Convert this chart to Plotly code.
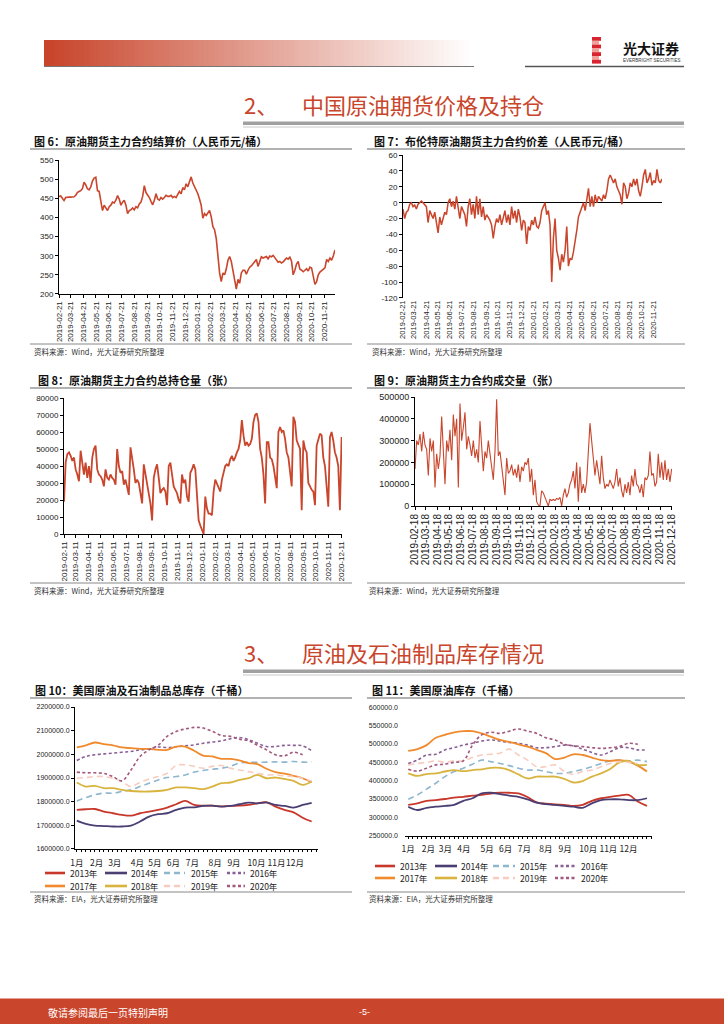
import numpy as np
import pandas as pd
import plotly.graph_objects as go

W, H = 724, 1024
def X(p): return p / W
def Y(p): return 1 - p / H

# ---------------- data ----------------
# Fig 6: settlement price (CNY/bbl), evenly spaced samples
c6_start, c6_end = "2019-02-21", "2020-12-16"
c6_price = [455,456,450,444,452,453,453,453,453,454,
            458,465,468,470,475,492,485,475,472,480,
            495,503,505,470,468,440,418,432,425,418,
            428,432,440,438,445,457,448,432,440,445,
            432,410,418,420,425,420,428,425,435,440,
            455,483,465,460,452,442,433,445,462,448,
            445,452,448,452,458,455,455,458,452,455,
            452,460,468,462,478,472,488,480,495,506,
            490,482,470,462,448,432,398,410,405,410,
            418,402,376,368,345,300,255,232,255,250,
            265,288,298,285,258,232,213,238,228,255,
            262,262,252,262,270,273,278,283,290,272,
            288,297,294,296,298,292,299,297,301,295,
            290,283,285,281,284,290,294,291,296,286,
            250,262,278,285,265,262,258,262,266,260,
            270,268,245,225,232,250,257,261,264,268,
            290,285,294,288,300,315]

# Fig 7: Brent - SC spread (CNY/bbl)
c7_start, c7_end = "2019-02-21", "2020-12-13"
c7_spread = [-8,-20,-12,-10,-2,0,-5,-3,-8,-2,
             0,2,0,-2,-5,-25,-10,-15,-20,-12,
             -25,-38,-18,-28,-20,-12,-15,0,5,-5,
             2,-8,8,-10,-20,-5,-10,-15,-30,-5,
             5,-15,-2,-20,8,-15,5,-18,-5,-22,
             -15,-18,-22,-28,-45,-30,-20,-25,-15,-28,
             -20,-10,-25,-15,-28,-5,-20,-10,-25,-8,
             -18,-35,-22,-25,-52,-30,-35,-22,-28,-18,
             -30,-32,-25,-10,-5,0,-15,-10,-28,-100,
             -45,-20,-60,-70,-85,-65,-75,-60,-30,-80,
             -70,-72,-62,-50,-35,-18,-12,-5,0,-10,
             5,18,-5,8,-5,10,0,8,5,2,
             10,5,15,30,35,30,25,30,20,15,
             10,-2,25,20,5,12,25,20,30,22,
             30,15,8,20,35,42,25,30,38,22,
             28,25,42,28,25,30]

# Fig 8: open interest (thousand lots)
c8_start, c8_end = "2019-02-11", "2020-12-12"
c8_oi_k = [19,42,47,48,46,43,45,38,35,31,
           49,40,35,42,33,40,30,45,50,52,
           38,35,34,32,28,38,33,32,35,33,
           32,29,50,40,36,37,29,32,28,23,
           51,45,38,30,32,30,25,18,41,35,
           28,22,18,8,33,38,41,33,24,26,
           27,25,17,40,42,35,28,26,24,20,
           18,35,30,32,22,19,36,38,41,38,
           25,8,5,2,0,22,15,12,12,11,
           25,32,30,28,25,32,36,40,41,40,
           44,46,43,45,48,50,55,67,58,52,
           54,52,53,56,66,70,71,66,50,45,
           35,18,54,54,45,44,40,34,27,60,
           63,60,61,56,48,45,35,28,69,66,
           55,53,50,14,55,50,48,30,28,26,
           25,17,52,55,59,58,45,40,30,16,
           57,60,55,48,45,40,14,57]

# Fig 9: volume (thousand lots)
c9_start, c9_end = "2019-02-18", "2020-12-18"
c9_vol_k = [170,300,280,330,250,340,280,260,140,310,
            250,300,85,240,170,230,410,280,100,300,
            250,350,210,420,320,400,85,470,300,360,
            430,260,320,280,230,300,220,260,200,390,
            270,160,250,220,300,250,180,120,250,490,
            230,250,180,130,50,220,150,160,190,140,
            170,130,190,110,180,160,200,190,220,110,
            170,50,120,20,5,0,70,60,40,20,
            0,30,25,30,25,35,30,40,0,50,
            80,40,60,100,120,160,80,200,20,180,
            60,100,60,110,250,380,300,200,140,210,
            160,100,230,130,80,100,90,120,100,80,
            110,170,90,130,70,40,100,60,110,50,
            140,90,170,100,90,60,100,40,130,120,
            140,250,140,150,90,110,240,130,200,120,
            210,120,170,110,170]

# Fig 10 / 11: biweekly stocks (values in thousands of 千桶)
weeks = list(range(0, 53, 2))
years = ["2013年", "2014年", "2015年", "2016年", "2017年", "2018年", "2019年", "2020年"]
s10 = {
    "2013年": [1765,1768,1769,1758,1751,1744,1741,1751,1758,1765,1775,1789,1803,1786,1783,1783,1780,1782,1783,1786,1793,1797,1779,1765,1755,1732,1716],
    "2014年": [1720,1706,1699,1697,1695,1695,1699,1716,1737,1747,1751,1765,1775,1776,1782,1783,1779,1782,1789,1796,1793,1797,1786,1782,1775,1786,1795],
    "2015年": [1803,1817,1829,1836,1836,1843,1850,1864,1878,1892,1902,1906,1913,1925,1932,1937,1941,1949,1963,1967,1966,1967,1968,1967,1970,1967,1967],
    "2016年": [1974,1991,1998,2002,2005,2009,2012,2019,2023,2031,2029,2032,2036,2040,2047,2052,2057,2066,2071,2062,2047,2033,2033,2038,2038,2036,2015],
    "2017年": [2029,2038,2050,2043,2038,2029,2026,2023,2023,2019,2019,2033,2033,2015,1995,1991,1981,1981,1974,1963,1959,1939,1925,1918,1909,1899,1882],
    "2018年": [1881,1864,1867,1857,1857,1850,1845,1843,1843,1845,1850,1860,1860,1857,1853,1864,1878,1881,1892,1899,1913,1899,1902,1896,1888,1871,1885],
    "2019年": [1899,1902,1906,1906,1899,1885,1864,1882,1896,1906,1920,1953,1956,1949,1941,1949,1953,1941,1934,1927,1920,1913,1913,1909,1906,1899,1888],
    "2020年": [1925,1922,1922,1919,1906,1888,1934,1991,2019,2038,2076,2097,2107,2114,2111,2097,2080,2076,2064,2057,2038,2019,1998,1994,2009,1998],
}
s11 = {
    "2013年": [334,338,345,347,350,354,356,359,361,365,367,367,365,355,341,337,335,334,331,334,345,352,356,359,361,343,331],
    "2014年": [329,320,326,329,331,334,345,352,365,367,363,359,356,349,340,336,334,331,329,326,338,347,349,349,347,347,352],
    "2015年": [349,361,377,393,411,425,434,445,456,452,447,441,434,429,429,425,420,420,425,431,438,447,454,456,454,456,452],
    "2016年": [447,456,470,472,484,490,497,502,508,511,508,504,502,497,490,490,493,497,495,486,477,470,479,490,490,484,484],
    "2017年": [481,486,497,517,525,532,535,535,529,520,511,506,499,493,484,475,459,463,472,470,463,456,454,456,452,441,425],
    "2018年": [420,413,418,420,425,429,426,429,431,435,435,429,417,406,411,411,411,405,395,399,411,420,432,450,454,443,443],
    "2019年": [443,447,450,454,450,454,454,463,470,472,475,486,470,456,438,438,443,425,417,425,429,438,447,452,450,447],
    "2020年": [431,426,434,443,445,450,454,497,525,532,529,535,541,535,529,517,511,499,495,493,490,488,490,493,502,499],
}
month_labels = ["1月","2月","3月","4月","5月","6月","7月","8月","9月","10月","11月","12月"]
c10_month_pos = [0, 4.4, 8.4, 13.4, 17.3, 21.4, 25.6, 30.6, 34.8, 39.8, 44.2, 48.3]
c11_month_pos = [0, 4.4, 8.1, 12.1, 17.2, 21.2, 25.3, 30.0, 34.2, 39.2, 43.6, 48.0]
c10_yticks = [1600000, 1700000, 1800000, 1900000, 2000000, 2100000, 2200000]
c11_yticks = [250000, 300000, 350000, 400000, 450000, 500000, 550000, 600000]

def month_ticks(y0, m0, n, day):
    out, y, m = [], y0, m0
    for _ in range(n):
        out.append(f"{y:04d}-{m:02d}-{day:02d}")
        m += 1
        if m > 12:
            m, y = 1, y + 1
    return out

c6_ticks = month_ticks(2019, 2, 22, 21)
c7_ticks = month_ticks(2019, 2, 22, 21)
c8_ticks = month_ticks(2019, 2, 23, 11)
c9_ticks = month_ticks(2019, 2, 23, 18)
c7_yticks = [60, 40, 20, 0, -20, -40, -60, -80, -100, -120]

# ---------------- styles ----------------
RED = "#C9452B"
CJK = "Noto Sans CJK SC"
LAT = "Liberation Sans"
year_style = {
    "2013年": dict(color="#C8372A", dash="solid", width=1.8),
    "2014年": dict(color="#4A3E73", dash="solid", width=1.8),
    "2015年": dict(color="#8DB6CF", dash="6px,4px", width=1.6),
    "2016年": dict(color="#8A5E96", dash="3px,2.5px", width=1.6),
    "2017年": dict(color="#F08A2C", dash="solid", width=1.8),
    "2018年": dict(color="#D8B43E", dash="solid", width=1.8),
    "2019年": dict(color="#F8CCBE", dash="6px,4px", width=1.6),
    "2020年": dict(color="#A2587C", dash="3px,2.5px", width=1.6),
}

fig = go.Figure()
def line(x, y, ax, color=RED, width=1.4, dash="solid", shape="linear"):
    fig.add_trace(go.Scatter(x=x, y=y, mode="lines", xaxis=ax[0], yaxis=ax[1],
                             line=dict(color=color, width=width, dash=dash, shape=shape),
                             showlegend=False, hoverinfo="skip"))

line(pd.date_range(c6_start, c6_end, periods=len(c6_price)), c6_price, ("x", "y"), width=1.6)
line(pd.date_range(c7_start, c7_end, periods=len(c7_spread)), c7_spread, ("x2", "y2"), width=1.5)
line(pd.date_range(c8_start, c8_end, periods=len(c8_oi_k)), np.array(c8_oi_k) * 1000, ("x3", "y3"), width=1.8)
line(pd.date_range(c9_start, c9_end, periods=len(c9_vol_k)), np.array(c9_vol_k) * 1000, ("x4", "y4"), width=1.1)
for yr in years:
    st = year_style[yr]
    line(weeks[:len(s10[yr])], np.array(s10[yr]) * 1000, ("x5", "y5"), st["color"], st["width"], st["dash"], "spline")
    line(weeks[:len(s11[yr])], np.array(s11[yr]) * 1000, ("x6", "y6"), st["color"], st["width"], st["dash"], "spline")

tf = dict(family=LAT, size=8, color="#222")
base = dict(showgrid=False, zeroline=False, automargin=False, tickfont=tf,
            linecolor="#000", linewidth=1, tickcolor="#000", ticklen=3)

lay = dict(
    xaxis=dict(base, domain=[X(59), X(335)], anchor="y", type="date", range=[c6_start, c6_end],
               tickvals=c6_ticks, ticktext=c6_ticks, tickangle=-90, showline=True, ticks="outside"),
    yaxis=dict(base, domain=[Y(294), Y(160)], anchor="x", range=[199.9, 550.1], dtick=50,
               showline=True, ticks="outside"),
    xaxis2=dict(base, domain=[X(403), X(662)], anchor="y2", type="date", range=[c7_start, c7_end],
                tickvals=c7_ticks, ticktext=c7_ticks, tickangle=-90, showline=False, ticks="",
                tickfont=dict(family=LAT, size=7.5, color="#222")),
    yaxis2=dict(base, domain=[Y(298), Y(155)], anchor="x2", range=[-120.1, 60.1],
                tickvals=c7_yticks, ticktext=[str(v) for v in c7_yticks],
                showline=True, ticks="outside", zeroline=True, zerolinecolor="#000", zerolinewidth=1),
    xaxis3=dict(base, domain=[X(64), X(342)], anchor="y3", type="date", range=[c8_start, "2020-12-13"],
                tickvals=c8_ticks, ticktext=c8_ticks, tickangle=-90, showline=True, ticks="outside"),
    yaxis3=dict(base, domain=[Y(534), Y(398)], anchor="x3", range=[0, 80010], dtick=10000,
                tickformat="d", showline=True, ticks="outside"),
    xaxis4=dict(base, domain=[X(415), X(672)], anchor="y4", type="date", range=[c9_start, "2020-12-19"],
                tickvals=c9_ticks, ticktext=c9_ticks, tickangle=-90, showline=True, ticks="outside",
                tickfont=dict(family=LAT, size=10, color="#222")),
    yaxis4=dict(base, domain=[Y(506), Y(397)], anchor="x4", range=[0, 500050], dtick=100000,
                tickformat="d", showline=True, ticks="outside", tickfont=dict(family=LAT, size=9, color="#222")),
    xaxis5=dict(base, domain=[X(75), X(318)], anchor="y5", range=[-0.4, 53.4],
                tickvals=c10_month_pos, ticktext=month_labels, showline=True, ticks="", tickangle=0,
                ticklabelstandoff=6, tickfont=dict(family=CJK, size=8.5, color="#222"),
                minor=dict(tickmode="linear", tick0=0, dtick=1, ticks="outside", ticklen=2, tickcolor="#000")),
    yaxis5=dict(base, domain=[Y(849), Y(707)], anchor="x5", range=[1599900, 2200100],
                tickvals=c10_yticks, ticktext=[f"{v:.1f}" for v in c10_yticks],
                showline=True, ticks="outside", tickfont=dict(family=LAT, size=7, color="#222")),
    xaxis6=dict(base, domain=[X(405), X(652)], anchor="y6", range=[-0.7, 53.1],
                tickvals=c11_month_pos, ticktext=month_labels, showline=True, ticks="", tickangle=0,
                ticklabelstandoff=5, tickfont=dict(family=CJK, size=8.5, color="#222"),
                minor=dict(tickmode="linear", tick0=0, dtick=1, ticks="outside", ticklen=2, tickcolor="#000")),
    yaxis6=dict(base, domain=[Y(836), Y(707)], anchor="x6", range=[249000, 601000],
                tickvals=c11_yticks, ticktext=[f"{v:.1f}" for v in c11_yticks],
                showline=False, ticks="", ticklabelstandoff=6,
                tickfont=dict(family=LAT, size=7, color="#222")),
)

shapes, annos = [], []
def rect(x0, y0, x1, y1, color):
    shapes.append(dict(type="rect", xref="paper", yref="paper", x0=X(x0), x1=X(x1), y0=Y(y1), y1=Y(y0),
                       fillcolor=color, line=dict(width=0), layer="below"))
def hline(x0, x1, y, color="#666", width=1.2, dash="solid"):
    shapes.append(dict(type="line", xref="paper", yref="paper", x0=X(x0), x1=X(x1), y0=Y(y), y1=Y(y),
                       line=dict(color=color, width=width, dash=dash)))
def text(x, y, s, size=9, color="#111", family=CJK, anchor="left"):
    annos.append(dict(xref="paper", yref="paper", x=X(x), y=Y(y), text=s, showarrow=False,
                      xanchor=anchor, yanchor="middle", font=dict(size=size, color=color, family=family)))

# header gradient bar
n = 86
x0h, x1h = 44, 474
for i in range(n):
    t = i / (n - 1)
    r = int(200 + (255 - 200) * t); g = int(68 + (255 - 68) * t); b = int(42 + (255 - 42) * t)
    rect(x0h + (x1h - x0h) * i / n, 40, x0h + (x1h - x0h) * (i + 1) / n + 0.6, 66, f"rgb({r},{g},{b})")
hline(44, 474, 66.5, "#777", 1.2)
# logo
for k, col in enumerate(["#D9232E", "#F2A09A", "#D9232E", "#F2A09A", "#D9232E", "#F2A09A", "#D9232E"]):
    rect(592, 37 + k * 3.8, 601 if k % 2 == 0 else 599, 37 + (k + 1) * 3.8, col)
text(651, 48, "<b>光大证券</b>", 14, "#111", CJK, "center")
text(651, 60, "EVERBRIGHT SECURITIES", 4.5, "#333", LAT, "center")
hline(525, 684, 66.5, "#555", 1.5)

# section titles
text(242, 104, "2、", 22, RED)
text(300, 104, "中国原油期货价格及持仓", 22, RED)
rect(243, 121.5, 684, 125, "#A0A0A0")
hline(243, 684, 127, "#C8C8C8", 1)
text(242, 652, "3、", 22, RED)
text(300, 652, "原油及石油制品库存情况", 22, RED)
rect(243, 669.5, 684, 673, "#A0A0A0")
hline(243, 684, 675, "#C8C8C8", 1)

# chart titles, rules, sources
src_w = "资料来源：Wind，光大证券研究所整理"
src_e = "资料来源：EIA，光大证券研究所整理"
text(32, 141, "<b>图 6：原油期货主力合约结算价（人民币元/桶）</b>", 11)
text(372, 141, "<b>图 7：布伦特原油期货主力合约价差（人民币元/桶）</b>", 11)
text(36, 380, "<b>图 8：原油期货主力合约总持仓量（张）</b>", 11)
text(372, 380, "<b>图 9：原油期货主力合约成交量（张）</b>", 11)
text(33, 690, "<b>图 10：美国原油及石油制品总库存（千桶）</b>", 11)
text(370, 690, "<b>图 11：美国原油库存（千桶）</b>", 11)
for (a, b) in [(30, 352), (367, 685)]:
    hline(a, b, 149); hline(a, b, 388); hline(a, b, 698)
    hline(a, b, 344, "#888", 1); hline(a, b, 583, "#888", 1); hline(a, b, 892, "#888", 1)
text(32, 351, src_w, 7.5, "#333"); text(370, 351, src_w, 7.5, "#333")
text(32, 590, src_w, 7.5, "#333"); text(367, 590, src_w, 7.5, "#333")
text(32, 898, src_e, 7.5, "#333"); text(367, 898, src_e, 7.5, "#333")

# manual legends
leg10 = [(45, 65, 68), (105, 127, 129), (164, 185, 189), (227, 245, 248)]
leg11 = [(375, 395, 398), (435, 457, 459), (493, 515, 518), (555, 577, 579)]
for i, yr in enumerate(years):
    st = year_style[yr]
    row, col = divmod(i, 4)
    for leg, ys in ((leg10, (873, 886)), (leg11, (866, 878))):
        a, b, tx = leg[col]
        yy = ys[row]
        hline(a, b, yy, st["color"], st["width"] + 0.8, st["dash"])
        text(tx, yy, yr, 8.5, "#222")

# footer
rect(0, 998, 724, 1024, "#C9452B")
hline(0, 724, 998.5, "#E8A090", 1)
text(46, 1012, "敬请参阅最后一页特别声明", 10, "#FFFFFF")
text(364, 1012, "-5-", 9, "#FFFFFF", LAT, "center")

fig.update_layout(width=W, height=H, margin=dict(l=0, r=0, t=0, b=0),
                  paper_bgcolor="white", plot_bgcolor="rgba(0,0,0,0)",
                  shapes=shapes, annotations=annos, showlegend=False, **lay)
fig.write_html("out.html", config={"displayModeBar": False},
               post_script="document.body.style.margin='0';")
